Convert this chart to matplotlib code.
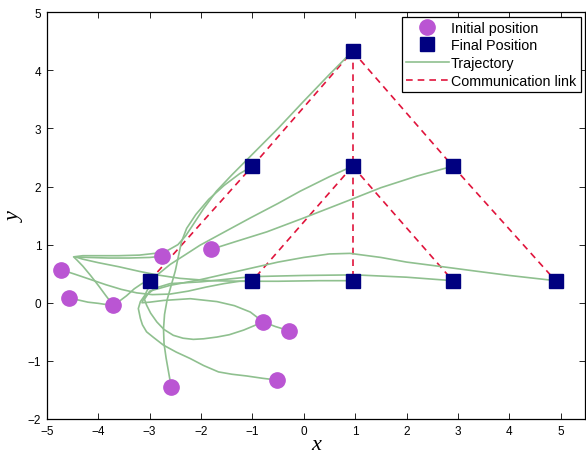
import numpy as np
import matplotlib as mpl
mpl.use('agg')
import matplotlib.pyplot as plt
from matplotlib.lines import Line2D

# initial positions of the 9 agents
init_x = [-4.73, -4.56, -3.72, -2.76, -1.80, -2.58, -0.79, -0.29, -0.52]
init_y = [0.57, 0.09, -0.03, 0.80, 0.92, -1.45, -0.33, -0.48, -1.33]

# final formation positions
final_x = [-3.0, -1.0, 0.95, 2.9, 4.9, -1.0, 0.95, 2.9, 0.95]
final_y = [0.38, 0.38, 0.38, 0.38, 0.38, 2.35, 2.35, 2.35, 4.33]

# communication links (index pairs into final positions)
links = [(0, 5), (5, 8), (8, 6), (6, 2), (8, 7), (7, 4), (6, 1), (6, 3)]

# trajectories (x, y)
traj_1 = [(-4.73, 0.57), (-4.45, 0.49), (-4.15, 0.40), (-3.85, 0.31), (-3.55, 0.23),
          (-3.25, 0.17), (-2.95, 0.14), (-2.6, 0.15), (-2.25, 0.2), (-1.9, 0.27),
          (-1.55, 0.33), (-1.25, 0.37), (-1.0, 0.38)]
traj_2 = [(-4.56, 0.09), (-4.4, 0.05), (-4.2, 0.01), (-4.0, -0.01), (-3.85, -0.03),
          (-3.72, -0.03), (-3.6, 0.02), (-3.45, 0.12), (-3.3, 0.24), (-3.15, 0.33),
          (-3.0, 0.38)]
traj_3 = [(-3.72, -0.03), (-3.85, 0.12), (-4.0, 0.3), (-4.15, 0.47), (-4.3, 0.63),
          (-4.42, 0.74), (-4.48, 0.79), (-4.3, 0.81), (-4.0, 0.81), (-3.6, 0.81),
          (-3.2, 0.82), (-2.9, 0.85), (-2.65, 0.9), (-2.45, 1.0), (-2.3, 1.15),
          (-2.15, 1.35), (-1.95, 1.62), (-1.7, 1.92), (-1.4, 2.2), (-1.04, 2.52),
          (-0.5, 3.0), (0.0, 3.47), (0.5, 3.93), (0.95, 4.33)]
traj_4 = [(-2.76, 0.80), (-3.0, 0.78), (-3.4, 0.77), (-3.8, 0.77), (-4.2, 0.78),
          (-4.45, 0.79), (-4.3, 0.75), (-4.0, 0.69), (-3.6, 0.62), (-3.2, 0.54),
          (-2.86, 0.48), (-2.41, 0.42), (-1.82, 0.38), (-1.2, 0.37), (-0.5, 0.37),
          (0.3, 0.38), (0.95, 0.38)]
traj_5 = [(-1.8, 0.92), (-1.3, 1.06), (-0.72, 1.22), (0.0, 1.46), (0.9, 1.77),
          (1.5, 1.98), (2.2, 2.18), (2.9, 2.35)]
traj_6 = [(-2.58, -1.45), (-2.63, -1.2), (-2.68, -0.95), (-2.72, -0.7), (-2.73, -0.45),
          (-2.71, -0.2), (-2.66, 0.05), (-2.58, 0.3), (-2.5, 0.55), (-2.44, 0.8),
          (-2.38, 1.05), (-2.28, 1.28), (-2.1, 1.52), (-1.85, 1.78), (-1.55, 2.02),
          (-1.25, 2.22), (-1.0, 2.35)]
traj_7 = [(-0.79, -0.33), (-1.17, -0.47), (-1.45, -0.55), (-1.69, -0.59), (-1.95, -0.62),
          (-2.15, -0.63), (-2.35, -0.61), (-2.54, -0.56), (-2.72, -0.46), (-2.86, -0.33),
          (-2.98, -0.18), (-3.06, -0.04), (-3.1, 0.06), (-3.0, 0.2), (-2.6, 0.3),
          (-2.0, 0.4), (-1.5, 0.5), (-1.0, 0.6), (-0.5, 0.7), (0.0, 0.78), (0.5, 0.84),
          (0.9, 0.85), (1.5, 0.78), (2.0, 0.7), (2.7, 0.62), (3.3, 0.55), (4.0, 0.47),
          (4.9, 0.38)]
traj_8 = [(-0.29, -0.48), (-0.55, -0.41), (-0.79, -0.33), (-1.04, -0.16), (-1.35, -0.05),
          (-1.69, 0.02), (-2.21, 0.07), (-2.73, 0.04), (-3.0, 0.01), (-3.15, 0.0),
          (-3.1, 0.1), (-2.9, 0.25), (-2.6, 0.33), (-2.0, 0.36), (-1.0, 0.45),
          (0.0, 0.47), (1.0, 0.48), (2.0, 0.44), (2.9, 0.38)]
traj_9 = [(-0.52, -1.33), (-0.8, -1.3), (-1.11, -1.26), (-1.4, -1.23), (-1.66, -1.19),
          (-1.95, -1.08), (-2.21, -0.96), (-2.48, -0.85), (-2.73, -0.73), (-2.92, -0.6),
          (-3.06, -0.5), (-3.14, -0.38), (-3.18, -0.27), (-3.22, -0.1), (-3.18, 0.02),
          (-3.1, 0.12), (-3.0, 0.3), (-2.85, 0.48), (-2.6, 0.66), (-2.3, 0.83),
          (-2.02, 0.99), (-1.5, 1.24), (-1.04, 1.46), (-0.5, 1.71), (-0.07, 1.92),
          (0.5, 2.17), (0.95, 2.35)]
trajectories = [traj_1, traj_2, traj_3, traj_4, traj_5, traj_6, traj_7, traj_8, traj_9]

x_ticks = list(range(-5, 6))
y_ticks = list(range(-2, 6))

traj_color = '#8fc08f'
link_color = '#e0143c'
init_color = '#ba55d3'
final_color = '#000080'

plt.rcParams['font.family'] = ['Liberation Sans', 'DejaVu Sans']

fig = plt.figure(figsize=(5.86, 4.56), dpi=100)
ax = fig.add_axes([0.080, 0.079, 0.918, 0.892])

for tr in trajectories:
    tr = np.asarray(tr)
    ax.plot(tr[:, 0], tr[:, 1], '-', color=traj_color, lw=1.2, zorder=2)

for i, j in links:
    ax.plot([final_x[i], final_x[j]], [final_y[i], final_y[j]], '--',
            color=link_color, lw=1.2, dashes=(4, 3), zorder=1)

ax.plot(init_x, init_y, 'o', ls='none', ms=11, mfc=init_color, mec=init_color, zorder=3)
ax.plot(final_x, final_y, 's', ls='none', ms=10, mfc=final_color, mec=final_color, zorder=3)

ax.set_xlim(-5, 5.47)
ax.set_ylim(-2, 5)
ax.set_xticks(x_ticks)
ax.set_yticks(y_ticks)
ax.set_xticklabels([str(v).replace('-', '\u2212') for v in x_ticks])
ax.set_yticklabels([str(v).replace('-', '\u2212') for v in y_ticks])
ax.tick_params(direction='in', length=4.5, width=0.6, top=True, right=True,
               labelsize=8.5, pad=4)
for sp in ax.spines.values():
    sp.set_linewidth(0.9)

ax.set_xlabel('x', family='Liberation Serif', style='italic', fontsize=16, labelpad=-1)
ax.set_ylabel('y', family='Liberation Serif', style='italic', fontsize=16, labelpad=2)

handles = [
    Line2D([], [], marker='o', ls='none', ms=11, mfc=init_color, mec=init_color),
    Line2D([], [], marker='s', ls='none', ms=10, mfc=final_color, mec=final_color),
    Line2D([], [], color=traj_color, lw=1.2),
    Line2D([], [], color=link_color, lw=1.2, ls='--', dashes=(4, 3)),
]
labels = ['Initial position', 'Final Position', 'Trajectory', 'Communication link']
leg = ax.legend(handles, labels, loc='upper right', fontsize=10.3, fancybox=False,
                framealpha=1, edgecolor='black', handlelength=3.0, handletextpad=0.15,
                labelspacing=0.25, borderpad=0.3, borderaxespad=0.3)
leg.get_frame().set_linewidth(0.9)

plt.savefig('out.png', dpi=100)
